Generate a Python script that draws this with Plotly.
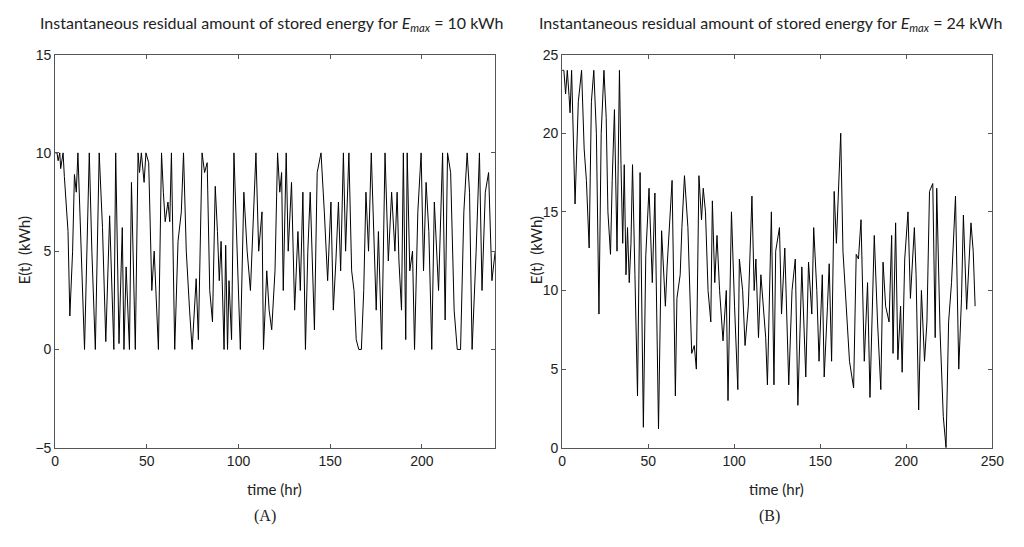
import plotly.graph_objects as go

# Panel A: E_max = 10 kWh  (time in hr, stored energy in kWh)
hours_a = [0, 1, 1.6, 2.5, 3, 4.3, 5, 6, 7, 8, 9.5, 10.5, 11.5, 12.4, 14, 16, 18.6, 20, 21.9, 24,
           25.8, 27.6, 29.7, 32, 33, 34.8, 36.6, 37.5, 38.7, 40.5, 41.6, 43.7, 45.2, 46, 47, 48.5,
           49.5, 51, 52.7, 54, 56.3, 58, 59, 60, 61.5, 62.5, 63.4, 65.2, 67, 68.8, 70, 71.5, 73.3,
           74.7, 76.9, 78.1, 80.1, 81.5, 82.9, 84.3, 85.8, 87.3, 88.5, 89.5, 90.5, 92.1, 93, 94,
           94.8, 96.2, 97.5, 99.3, 101, 102.9, 104.7, 106.5, 108.3, 109.5, 111, 112.8, 113.6,
           115.4, 116.7, 118.1, 119.9, 121.3, 122.5, 123.5, 124.4, 126, 127.1, 128.9, 130.6,
           132.4, 133.7, 135.1, 136.5, 137.8, 139.1, 140.5, 141.4, 142.9, 145, 146.8, 148.6,
           150.4, 151.7, 153.1, 154.5, 155.7, 157.2, 158.4, 160.2, 161.7, 163, 164.2, 165.6, 167,
           168.3, 169.5, 170.9, 172.4, 173.6, 175.1, 176.3, 178.1, 179.9, 181.7, 183.5, 185.3,
           186.5, 187.5, 188.9, 189.9, 191.2, 192, 193.4, 194.9, 196, 197.8, 199.6, 200.9, 202.3,
           203.8, 205.4, 206.8, 209.1, 211.3, 212.7, 214, 215.7, 217.6, 219.3, 221.1, 222.9,
           224.7, 226, 227.4, 229.6, 231.4, 232.8, 234.6, 236.4, 238.2, 240]
energy_a = [10, 10, 9.6, 10, 9.2, 10, 8.8, 7.4, 6, 1.7, 5, 8.9, 8, 10, 5, 0, 10, 5, 0, 10,
            6.2, 0.4, 6.8, 0, 10, 0.3, 6.2, 0, 4.2, 0, 8.5, 0, 10, 9, 10, 8.5,
            10, 9.5, 3, 5, 0, 10, 8, 6.5, 7.5, 6.5, 10, 0, 5.5, 7, 10, 5, 2,
            0, 3.6, 0.5, 10, 9, 9.5, 3, 1.4, 8.3, 6, 3.5, 5.5, 0, 5.3, 0,
            3.5, 0.5, 10, 5, 0, 8, 5, 3, 7.5, 10, 5, 7, 0,
            4, 2, 1, 4, 10, 8, 9, 3, 10, 5, 8.5, 2,
            6, 3, 8, 0, 5, 8, 4, 1, 9, 10, 7, 3.5,
            7.5, 2, 4.5, 7.5, 4, 10, 5, 10, 4, 3, 0.5, 0, 0,
            3, 8, 5, 10, 6, 2, 6, 0, 10, 4.5, 8, 5,
            8, 4.5, 2, 10, 0.5, 10, 4, 5, 0, 7, 10, 4, 8.5,
            6, 0, 7.5, 3, 10, 1.5, 10, 9, 2, 0, 0, 7,
            10, 8, 0, 5, 10, 3, 8, 9, 3.5, 5]

# Panel B: E_max = 24 kWh
hours_b = [0, 1, 2, 3, 4, 4.6, 5.5, 7.5, 9.4, 10.3, 11.3, 12.8, 14.1, 15.7, 17, 18.4, 19.9, 21.4,
           22.7, 24.3, 25.6, 26.6, 28.1, 29.1, 30.4, 31.9, 33.3, 34.2, 35.2, 36.1, 37.1, 38, 39,
           40, 40.9, 42.3, 43.8, 45.3, 47.2, 48.6, 50.5, 52.4, 53.9, 56, 57.8, 60, 61, 63.9, 65.8,
           66.7, 68.6, 69.6, 71.1, 73.1, 74.4, 75.3, 76.8, 78, 79.5, 81, 82, 83.3, 84.8, 86.4,
           87.3, 88.7, 90, 91.5, 93.5, 95.4, 96.4, 98.4, 100.2, 102.1, 103, 104.9, 106.3, 108.2,
           110.3, 111.6, 112.6, 114.1, 115.5, 117.4, 118.3, 119.3, 120.2, 121.6, 123.1, 124.1,
           126.3, 127.5, 129.4, 131.7, 133.6, 135.5, 137, 139.3, 141.6, 143.2, 145.1, 146.2, 148,
           149.3, 151.2, 152.3, 154.2, 155.2, 156.6, 158.1, 159.4, 160.8, 161.9, 163.2, 165.1,
           167, 169.4, 170.9, 172.2, 173.7, 175.6, 177.5, 178.9, 181.4, 183.3, 185.2, 186.5, 188,
           190, 191.5, 192.3, 193.8, 195.1, 196.7, 197.6, 199.1, 201, 202.4, 204.7, 205.7, 207.2,
           208.8, 210.6, 212, 213.5, 215.4, 216.8, 217.7, 219.6, 221.5, 223.1, 224.6, 226.3,
           228.6, 230.5, 232.1, 233.2, 235.1, 237.6, 238.9, 240]
energy_b = [24, 24, 22.5, 24, 22.4, 21.3, 24, 15.5, 22, 23, 24, 19, 17, 12.7, 22, 24, 20, 8.5,
            20, 24, 21, 15, 12.3, 17, 21.5, 12.5, 24, 18, 13, 18, 11, 14, 10.5,
            13, 18, 11, 3.3, 17.5, 1.3, 12.2, 16.5, 10.5, 16.2, 1.2, 13.8, 9, 11.5, 17, 3.3,
            9.5, 11, 14, 17.3, 14, 9.5, 6, 6.5, 5, 17.3, 14.5, 16.5, 15, 10, 8,
            15.7, 10.5, 13.5, 10, 6.8, 10, 3, 15, 9, 3.7, 12, 10, 6.5, 9,
            16, 10, 12, 7, 11, 8.5, 7, 4, 9, 15, 4, 12.5,
            14, 8.5, 12.7, 4, 10, 12, 2.7, 11.5, 4.5, 11.8, 8.5, 14, 10,
            5.5, 11, 4.5, 9, 11.7, 5.5, 16.3, 13, 16.8, 20, 12.5, 9,
            5.5, 3.8, 12.3, 12, 14.5, 5.5, 10.5, 3.2, 13.5, 8, 3.7, 11.8, 9,
            8, 13.5, 6, 14.3, 5.6, 9, 4.8, 12, 15, 9.5, 14, 11, 2.4,
            10, 5.5, 8, 16.3, 16.8, 7, 16.5, 7.5, 2, 0, 8, 10.5,
            16, 5, 9.5, 14.8, 8.8, 14.3, 12.5, 9]

ticks_x_a = [0, 50, 100, 150, 200]
ticks_y_a = [-5, 0, 5, 10, 15]
ticks_x_b = [0, 50, 100, 150, 200, 250]
ticks_y_b = [0, 5, 10, 15, 20, 25]

W, H = 1024, 547
tick_font = dict(family="Liberation Sans Narrow, Liberation Sans, Arial", size=14, color="#222")
title_font = dict(family="Lato, Open Sans, Liberation Sans", size=16, color="#222")
label_font = dict(family="Lato, Open Sans, Liberation Sans", size=15, color="#222")

fig = go.Figure()
fig.add_trace(go.Scatter(x=hours_a, y=energy_a, mode="lines",
                         line=dict(color="black", width=1), xaxis="x", yaxis="y",
                         showlegend=False))
fig.add_trace(go.Scatter(x=hours_b, y=energy_b, mode="lines",
                         line=dict(color="black", width=1), xaxis="x2", yaxis="y2",
                         showlegend=False))

axis_common = dict(showgrid=False, zeroline=False, showline=True, linecolor="#555",
                   linewidth=1, mirror="ticks", ticks="inside", ticklen=4,
                   tickcolor="#555", tickfont=tick_font)

ydom = [1 - 453 / H, 1 - 48 / H]
fig.update_layout(
    width=W, height=H,
    margin=dict(l=0, r=0, t=0, b=0),
    paper_bgcolor="white", plot_bgcolor="white",
    xaxis=dict(domain=[52 / W, 499 / W], range=[0, 240], tickvals=ticks_x_a,
               anchor="y", **axis_common),
    yaxis=dict(domain=ydom, range=[-5, 15], tickvals=ticks_y_a, anchor="x", **axis_common),
    xaxis2=dict(domain=[567 / W, 1004 / W], range=[0, 250], tickvals=ticks_x_b,
                anchor="y2", **axis_common),
    yaxis2=dict(domain=ydom, range=[0, 25], tickvals=ticks_y_b, anchor="x2", **axis_common),
)

annots = [
    dict(x=272 / W, y=1 - 16 / H, font=title_font,
         text="Instantaneous residual amount of stored energy for <i>E<sub>max</sub></i> = 10 kWh"),
    dict(x=779 / W, y=1 - 16 / H, font=title_font,
         text="Instantaneous residual amount of stored energy for <i>E<sub>max</sub></i> = 24 kWh"),
    dict(x=275 / W, y=1 - 496 / H, text="time (hr)", font=label_font),
    dict(x=785 / W, y=1 - 496 / H, text="time (hr)", font=label_font),
    dict(x=20 / W, y=1 - 250 / H, text="E(t)  (kWh)", textangle=-90, font=label_font),
    dict(x=540 / W, y=1 - 250 / H, text="E(t)  (kWh)", textangle=-90, font=label_font),
]
for a in annots:
    fig.add_annotation(xref="paper", yref="paper", showarrow=False,
                       xanchor="center", yanchor="middle", **a)

for x, t in [(265, "(A)"), (778, "(B)")]:
    fig.add_annotation(xref="paper", yref="paper", x=x / W, y=1 - 523 / H, text=t,
                       showarrow=False, xanchor="center", yanchor="middle",
                       font=dict(family="Liberation Serif, DejaVu Serif", size=16, color="#222"))

fig.write_html("out.html")
